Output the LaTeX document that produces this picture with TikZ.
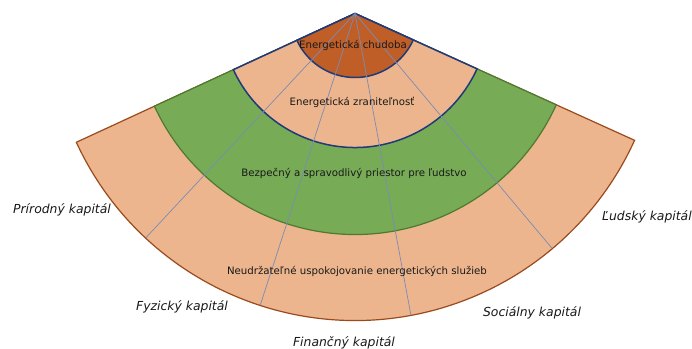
\documentclass[tikz,border=0pt]{standalone}
\usepackage{fontspec}
\setmainfont{DejaVu Sans}
\definecolor{peach}{HTML}{EDB58D}
\definecolor{peachedge}{HTML}{9A4A1C}
\definecolor{leaf}{HTML}{77AB56}
\definecolor{leafedge}{HTML}{4E7A30}
\definecolor{rust}{HTML}{C05E28}
\definecolor{navy}{HTML}{1F3A78}
\definecolor{divline}{HTML}{7A8CB4}
\begin{document}
\begin{tikzpicture}[x=1pt,y=1pt,
  sector/.style={line width=1.2pt, line join=miter},
  navyedge/.style={draw=navy, line width=1.5pt},
  divider/.style={draw=divline, line width=0.7pt},
  inner/.style={font=\fontsize{10.2}{12}\selectfont, text=black!90, inner sep=0pt},
  capl/.style={font=\fontsize{12.4}{14}\selectfont\itshape, text=black!90, inner sep=0pt}]
\useasboundingbox (0,0) rectangle (692,348);
\coordinate (O) at (355,334.5);
% sectors
\filldraw[sector, fill=peach, draw=peachedge] (O) -- ++(204.8:307) arc[start angle=204.8, end angle=335.6, radius=307] -- cycle;
\filldraw[sector, fill=leaf, draw=leafedge] (O) -- ++(204.8:221) arc[start angle=204.8, end angle=335.6, radius=221] -- cycle;
\filldraw[sector, fill=peach, navyedge] (O) -- ++(204.8:134) arc[start angle=204.8, end angle=335.6, radius=134] -- cycle;
\filldraw[sector, fill=rust, navyedge] (O) -- ++(204.8:64) arc[start angle=204.8, end angle=335.6, radius=64] -- cycle;
% dividers
\foreach \a/\n in {227/d1, 252/d2, 280.5/d3, 310/d4} {
  \path (O) ++(\a:306.5) coordinate (\n);
  \draw[divider] (O) -- (\n);
}
% ring labels
\node[inner] (chud) at (353,303) {Energetická chudoba};
\node[inner] (zran) at (352,246) {Energetická zraniteľnosť};
\node[inner] (bezp) at (354,175) {Bezpečný a spravodlivý priestor pre ľudstvo};
\node[inner] (neud) at (357,77) {Neudržateľné uspokojovanie energetických služieb};
% capital labels
\node[capl] (prir) at (62,138) {Prírodný kapitál};
\node[capl] (fyz) at (182,41) {Fyzický kapitál};
\node[capl] (fin) at (344,5.5) {Finančný kapitál};
\node[capl] (soc) at (532,35) {Sociálny kapitál};
\node[capl] (ludk) at (647,131) {Ľudský kapitál};
\end{tikzpicture}
\end{document}
